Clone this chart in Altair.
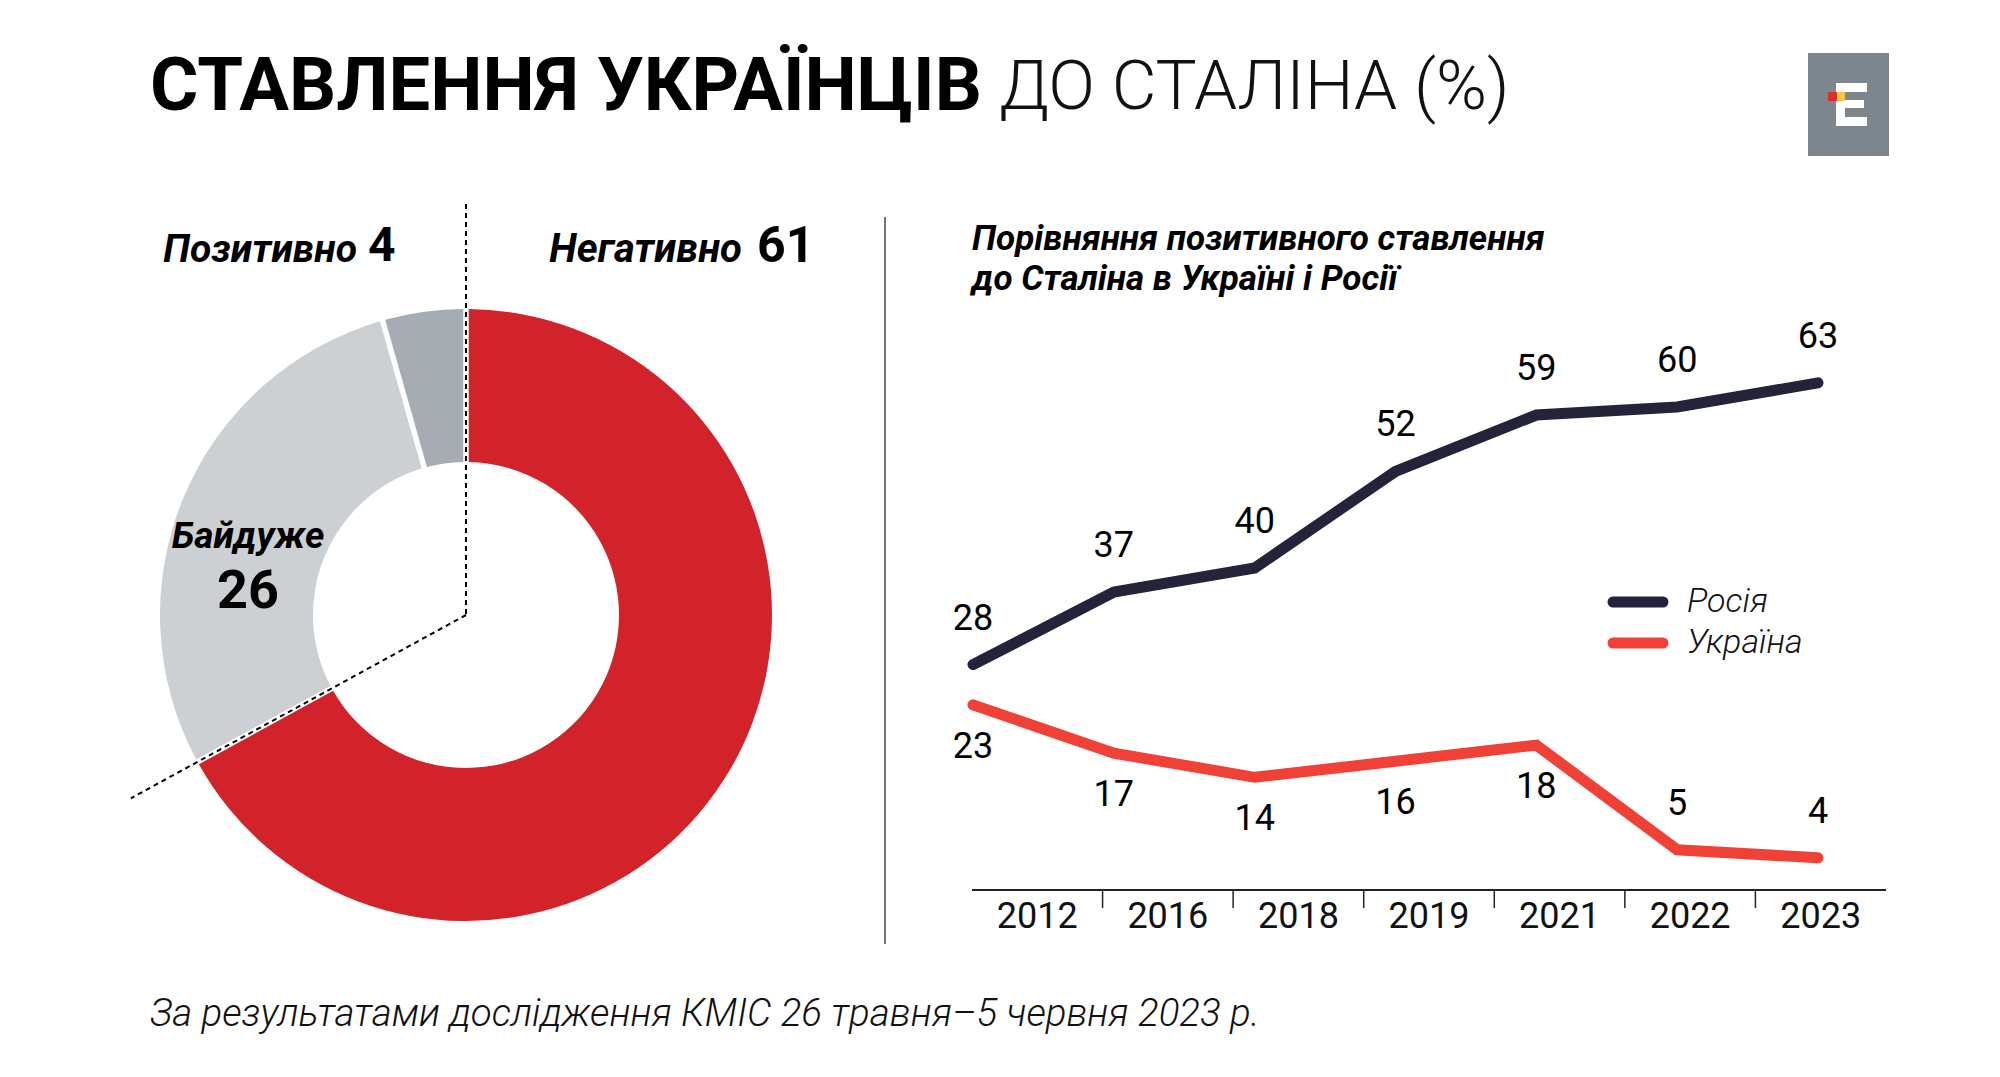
import math
import altair as alt
import pandas as pd

# ---- data -------------------------------------------------------------
attitude_labels = ["Негативно", "Байдуже", "Позитивно"]
attitude_values = [61, 26, 4]

years = ["2012", "2016", "2018", "2019", "2021", "2022", "2023"]
russia = [28, 37, 40, 52, 59, 60, 63]
ukraine = [23, 17, 14, 16, 18, 5, 4]
series_names = ["Росія", "Україна"]

title_bold = "СТАВЛЕННЯ УКРАЇНЦІВ"
title_light = "ДО СТАЛІНА (%)"
subtitle_lines = ["Порівняння позитивного ставлення", "до Сталіна в Україні і Росії"]
source_note = "За результатами дослідження КМІС 26 травня–5 червня 2023 р."

# ---- styling ----------------------------------------------------------
W, H = 2000, 1077
FONT = "Roboto, 'Noto Sans', sans-serif"
RED_DONUT = "#d2232a"
GREY_LIGHT = "#cdd0d3"
GREY_DARK = "#a6acb2"
NAVY = "#23233a"
RED_LINE = "#ef4135"

donut_df = pd.DataFrame({
    "cat": attitude_labels,
    "value": attitude_values,
    "order": list(range(len(attitude_labels))),
})

long_df = pd.DataFrame({
    "year": years * 2,
    "series": [series_names[0]] * len(years) + [series_names[1]] * len(years),
    "value": russia + ukraine,
})

one = pd.DataFrame({"a": [0]})


def text_layer(text, x, y, size, weight="normal", style="normal", align="left",
               color="black", font=FONT):
    return alt.Chart(one).mark_text(
        text=text, font=font, fontSize=size, fontWeight=weight, fontStyle=style,
        align=align, baseline="middle", color=color,
    ).encode(x=alt.value(x), y=alt.value(y))


# ---- donut -------------------------------------------------------------
CX, CY, R_IN, R_OUT = 466, 615, 153, 306

donut = alt.Chart(donut_df).mark_arc(
    innerRadius=R_IN, outerRadius=R_OUT, padAngle=0.016
).encode(
    theta=alt.Theta("value:Q", stack=True),
    order=alt.Order("order:Q", sort="ascending"),
    fill=alt.Fill("cat:N", scale=alt.Scale(domain=attitude_labels,
                                            range=[RED_DONUT, GREY_LIGHT, GREY_DARK]),
                  legend=None),
    x=alt.value(CX),
    y=alt.value(CY),
)

# dashed guides: straight up from the centre, and along the end of the "negative" slice
share_neg = attitude_values[0] / sum(attitude_values)
ang = 2 * math.pi * share_neg
guide_len = 382
gx = CX + guide_len * math.sin(ang)
gy = CY - guide_len * math.cos(ang)

guide_up = alt.Chart(one).mark_rule(color="black", strokeWidth=2, strokeDash=[5, 4]).encode(
    x=alt.value(CX), x2=alt.value(CX), y=alt.value(204), y2=alt.value(CY))
guide_diag = alt.Chart(one).mark_rule(color="black", strokeWidth=2, strokeDash=[5, 4]).encode(
    x=alt.value(CX), x2=alt.value(gx), y=alt.value(CY), y2=alt.value(gy))


def donut_label(cat, x_name, y_name, x_num, y_num, name_size, num_size, name_align="right"):
    sub = alt.Chart(donut_df).transform_filter(alt.datum.cat == cat)
    name = sub.mark_text(font=FONT, fontSize=name_size, fontStyle="italic", fontWeight="bold",
                         align=name_align, baseline="middle", color="black").encode(
        x=alt.value(x_name), y=alt.value(y_name), text="cat:N")
    num = sub.mark_text(font=FONT, fontSize=num_size, fontWeight="bold",
                        align="left" if name_align == "right" else "center",
                        baseline="middle", color="black").encode(
        x=alt.value(x_num), y=alt.value(y_num), text="value:Q")
    return name + num


lab_pos = donut_label("Позитивно", 357, 250, 368, 247, 39, 48)
lab_neg = donut_label("Негативно", 742, 250, 757, 247, 40, 50)
lab_ind = donut_label("Байдуже", 248, 537, 248, 592, 37, 54, name_align="center")

# ---- line chart ------------------------------------------------------
x_pts = alt.Scale(type="point", domain=years, range=[973, 1818], padding=0)
x_band = alt.Scale(type="band", domain=years, range=[972, 1886], paddingInner=0, paddingOuter=0)
y_lin = alt.Scale(domain=[0, 80], range=[890, 246], nice=False, zero=True)
series_color = alt.Scale(domain=series_names, range=[NAVY, RED_LINE])

lines = alt.Chart(long_df).mark_line(strokeWidth=11, strokeCap="round", strokeJoin="miter").encode(
    x=alt.X("year:N", scale=x_pts, axis=None),
    y=alt.Y("value:Q", scale=y_lin, axis=None),
    color=alt.Color("series:N", scale=series_color, legend=None),
)

labels_above = alt.Chart(long_df).transform_filter(
    (alt.datum.series == series_names[0]) | (alt.datum.value < 10)
).mark_text(font=FONT, fontSize=36, dy=-46, baseline="middle", color="black").encode(
    x=alt.X("year:N", scale=x_pts, axis=None),
    y=alt.Y("value:Q", scale=y_lin, axis=None),
    text="value:Q",
)
labels_below = alt.Chart(long_df).transform_filter(
    (alt.datum.series == series_names[1]) & (alt.datum.value >= 10)
).mark_text(font=FONT, fontSize=36, dy=42, baseline="middle", color="black").encode(
    x=alt.X("year:N", scale=x_pts, axis=None),
    y=alt.Y("value:Q", scale=y_lin, axis=None),
    text="value:Q",
)

# legend: a short rounded stroke per series with its name
legend_df = pd.DataFrame({"series": series_names})
legend_y = alt.Scale(type="point", domain=series_names, range=[602, 643], padding=0)
legend_keys = alt.Chart(legend_df).mark_rule(strokeWidth=11, strokeCap="round").encode(
    x=alt.value(1613), x2=alt.value(1663),
    y=alt.Y("series:N", scale=legend_y, axis=None),
    color=alt.Color("series:N", scale=series_color, legend=None),
)
legend_text = alt.Chart(legend_df).mark_text(
    font=FONT, fontSize=34, fontStyle="italic", fontWeight=300, align="left",
    baseline="middle", color="#111",
).encode(
    x=alt.value(1687),
    y=alt.Y("series:N", scale=legend_y, axis=None),
    text="series:N",
)

# hand-drawn category axis: baseline, separators between years, year labels
axis_df = pd.DataFrame({"year": years})
baseline = alt.Chart(one).mark_rule(color="#222", strokeWidth=2).encode(
    x=alt.value(972), x2=alt.value(1886), y=alt.value(890))
seps = alt.Chart(axis_df).transform_filter(alt.datum.year != years[0]).mark_rule(
    color="#222", strokeWidth=1.5).encode(
    x=alt.X("year:N", scale=x_band, bandPosition=0, axis=None),
    y=alt.value(890), y2=alt.value(908))
year_labels = alt.Chart(axis_df).mark_text(font=FONT, fontSize=36, baseline="middle",
                                           color="#111").encode(
    x=alt.X("year:N", scale=x_band, axis=None),
    y=alt.value(917), text="year:N")

# ---- decorations ------------------------------------------------------
divider = alt.Chart(one).mark_rule(color="#444", strokeWidth=1.5).encode(
    x=alt.value(885), x2=alt.value(885), y=alt.value(217), y2=alt.value(944))


def rect(x1, x2, y1, y2, color):
    return alt.Chart(one).mark_rect(color=color).encode(
        x=alt.value(x1), x2=alt.value(x2), y=alt.value(y1), y2=alt.value(y2))


logo = alt.layer(
    rect(1808, 1889, 53, 156, "#7d868c"),
    rect(1836, 1845, 83, 126, "white"),
    rect(1836, 1867, 83, 92, "white"),
    rect(1836, 1864, 100, 108, "white"),
    rect(1836, 1867, 117, 126, "white"),
    rect(1828, 1837, 92, 101, "#d8312c"),
    rect(1837, 1845, 92, 101, "#f6c945"),
)

title1 = text_layer(title_bold, 150, 88, 74, weight="bold")
title2 = text_layer(title_light, 999, 88, 69, weight=300, color="#111")
sub1 = text_layer(subtitle_lines[0], 972, 239, 35, weight="bold", style="italic")
sub2 = text_layer(subtitle_lines[1], 972, 279, 35, weight="bold", style="italic")
footer = text_layer(source_note, 150, 1014, 38.5, style="italic", weight=300, color="#111")

chart = alt.layer(
    donut, guide_up, guide_diag, lab_pos, lab_neg, lab_ind,
    divider, baseline, seps, year_labels,
    lines, labels_above, labels_below, legend_keys, legend_text,
    logo, title1, title2, sub1, sub2, footer,
).resolve_scale(
    x="independent", y="independent", color="independent", fill="independent", theta="independent"
).properties(
    width=W, height=H, autosize=alt.AutoSizeParams(type="none"), padding=0,
    background="white",
).configure_view(stroke=None)

chart.save("out.html", embed_options={"renderer": "svg", "actions": False})
